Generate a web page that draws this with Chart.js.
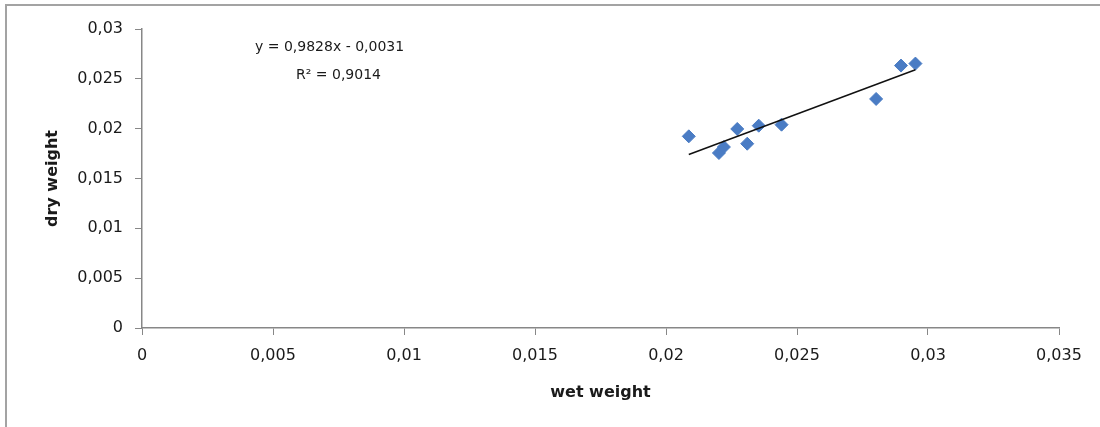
<!DOCTYPE html>
<html>
<head>
<meta charset="utf-8">
<script src="https://cdn.jsdelivr.net/npm/chart.js@4"></script>
<style>
  html, body { margin: 0; padding: 0; background: #fff; }
  canvas { display: block; }
</style>
</head>
<body>
<canvas id="chart" width="1100" height="427"></canvas>
<script>
// Data
const wetWeight = [0.02087, 0.02202, 0.02221, 0.02272, 0.0231, 0.02354, 0.02441, 0.02802, 0.02897, 0.02952];
const dryWeight = [0.01923, 0.01756, 0.01816, 0.01997, 0.01849, 0.0203, 0.0204, 0.02298, 0.02633, 0.02653];
const xTickLabels = ['0', '0,005', '0,01', '0,015', '0,02', '0,025', '0,03', '0,035'];
const yTickLabels = ['0', '0,005', '0,01', '0,015', '0,02', '0,025', '0,03'];
const trendSlope = 0.9828;
const trendIntercept = -0.0031;
const equationLines = ['y = 0,9828x - 0,0031', 'R² = 0,9014'];

const points = wetWeight.map((x, i) => ({ x: x, y: dryWeight[i] }));
const xMin = Math.min(...wetWeight);
const xMax = Math.max(...wetWeight);
const trendPoints = [xMin, xMax].map((x) => ({ x: x, y: trendSlope * x + trendIntercept }));

const axisGrey = '#878787';
const tickFont = { family: 'DejaVu Sans', size: 16 };
const titleFont = { family: 'DejaVu Sans', size: 16, weight: 'bold' };

// Frame and trendline label
const extras = {
  id: 'extras',
  beforeDraw: (chart) => {
    const ctx = chart.ctx;
    ctx.save();
    ctx.fillStyle = '#fff';
    ctx.fillRect(0, 0, chart.width, chart.height);
    ctx.strokeStyle = '#a3a3a3';
    ctx.lineWidth = 2;
    ctx.beginPath();
    ctx.moveTo(6, chart.height);
    ctx.lineTo(6, 5);
    ctx.lineTo(chart.width, 5);
    ctx.stroke();
    ctx.restore();
  },
  afterDraw: (chart) => {
    const ctx = chart.ctx;
    ctx.save();
    ctx.fillStyle = '#1a1a1a';
    ctx.font = '14px "DejaVu Sans"';
    ctx.textBaseline = 'middle';
    ctx.fillText(equationLines[0], 255, 47);
    ctx.fillText(equationLines[1], 296, 75);
    ctx.restore();
  },
};

const ctx = document.getElementById('chart').getContext('2d');
const myChart = new Chart(ctx, {
  type: 'scatter',
  data: {
    datasets: [
      {
        type: 'line',
        label: 'trend',
        data: trendPoints,
        borderColor: '#111',
        borderWidth: 1.5,
        pointRadius: 0,
        fill: false,
        order: 0,
      },
      {
        label: 'samples',
        data: points,
        pointStyle: 'rectRot',
        pointRadius: 6.5,
        backgroundColor: '#4a7cc4',
        borderColor: '#4a7cc4',
        borderWidth: 1,
        order: 1,
      },
    ],
  },
  options: {
    responsive: false,
    animation: false,
    layout: {
      padding: { top: 29, right: 41, bottom: 0, left: 0 },
    },
    plugins: {
      legend: { display: false },
      tooltip: { enabled: false },
    },
    scales: {
      x: {
        type: 'linear',
        min: 0,
        max: 0.035,
        afterFit: (scale) => { scale.height = 99; },
        ticks: {
          stepSize: 0.005,
          color: '#1a1a1a',
          font: tickFont,
          padding: 11,
          maxRotation: 0,
          callback: (value, index) => xTickLabels[index],
        },
        grid: {
          drawOnChartArea: false,
          tickLength: 7,
          color: axisGrey,
        },
        border: { color: axisGrey, width: 1.5 },
        title: {
          display: true,
          text: 'wet weight',
          color: '#1a1a1a',
          font: titleFont,
          padding: { top: 0, bottom: 25 },
        },
      },
      y: {
        type: 'linear',
        min: 0,
        max: 0.03,
        afterFit: (scale) => { scale.width = 142; },
        ticks: {
          stepSize: 0.005,
          color: '#1a1a1a',
          font: tickFont,
          padding: 12,
          callback: (value, index) => yTickLabels[index],
        },
        grid: {
          drawOnChartArea: false,
          tickLength: 7,
          color: axisGrey,
        },
        border: { color: axisGrey, width: 1.5 },
        title: {
          display: true,
          text: 'dry weight',
          color: '#1a1a1a',
          font: titleFont,
          padding: { top: 43, bottom: 0 },
        },
      },
    },
  },
  plugins: [extras],
});
</script>
</body>
</html>
